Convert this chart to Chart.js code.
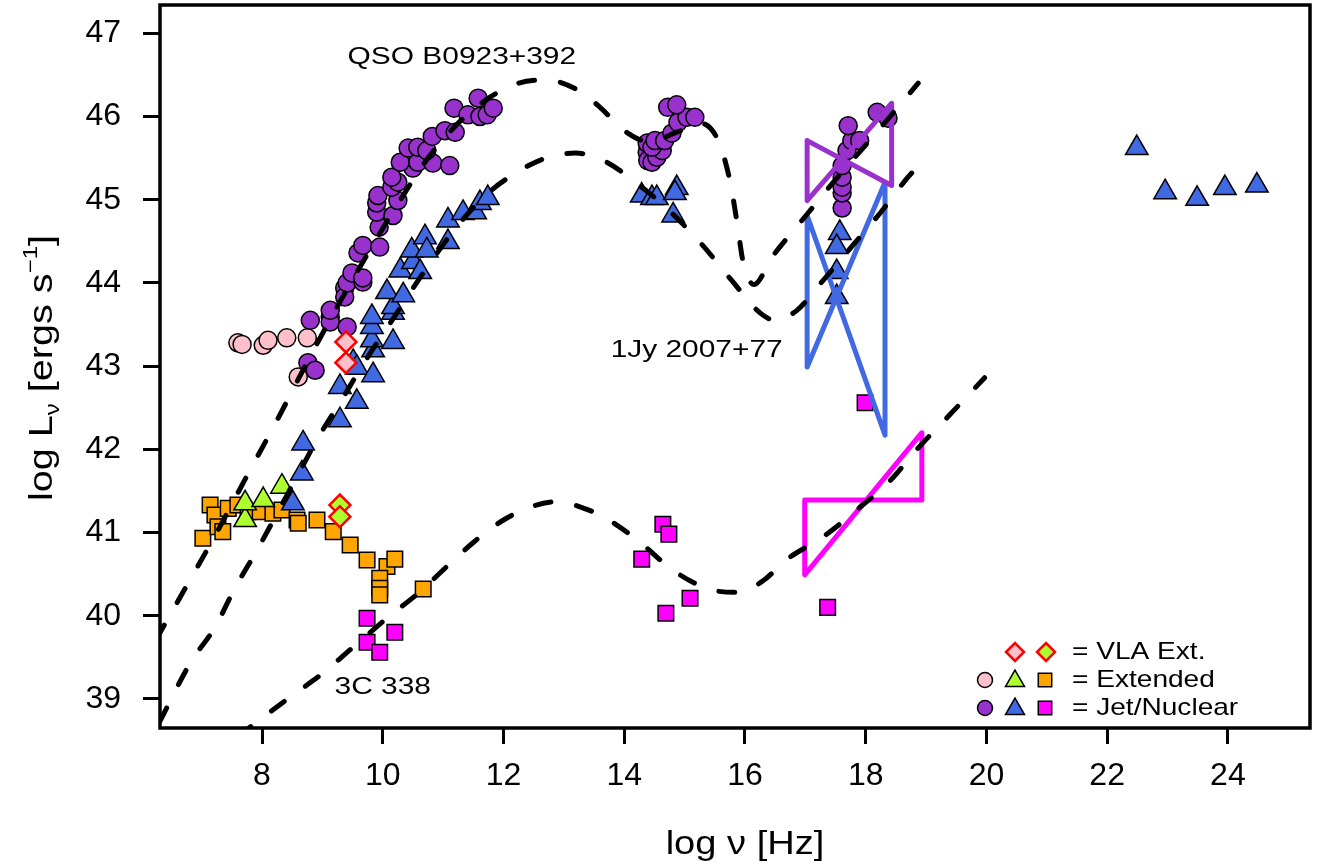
<!DOCTYPE html>
<html><head><meta charset="utf-8">
<script src="https://cdn.jsdelivr.net/npm/chart.js@4/dist/chart.umd.min.js"></script>
<style>html,body{margin:0;padding:0;background:#fff}#wrap{width:1329px;height:864px}</style>
</head><body><div id="wrap"><canvas id="c" width="1329" height="864"></canvas></div>
<script>
// ---------- tick labels ----------
const xTicks = [8,10,12,14,16,18,20,22,24];
const yTicks = [39,40,41,42,43,44,45,46,47];

// ---------- QSO B0923+392 (jet/nuclear, purple circles) ----------
const qsoJet = [
 [8.76,43.04],[8.88,42.95],[8.80,43.55],[9.13,43.59],[9.13,43.53],[9.41,43.47],[9.13,43.67],
 [9.37,43.94],[9.37,43.83],[9.41,44.0],[9.67,44.01],[9.49,44.12],[9.67,44.06],[9.59,44.36],
 [9.67,44.45],[9.95,44.43],[9.94,44.67],[9.90,44.85],[10.17,44.81],[9.90,44.96],[10.25,44.99],
 [9.92,45.05],[10.15,45.15],[10.25,45.21],[10.15,45.27],[10.50,45.38],[10.29,45.45],[10.58,45.45],
 [10.83,45.44],[11.11,45.41],[10.42,45.62],[10.58,45.63],[10.73,45.59],[10.82,45.76],[11.03,45.83],
 [11.20,45.81],[11.18,46.1],[11.41,46.02],[11.61,46.0],[11.73,46.02],[11.58,46.22],[11.83,46.1],
 [14.38,45.57],[14.39,45.47],[14.46,45.45],[14.54,45.51],[14.63,45.59],[14.38,45.68],[14.46,45.63],
 [14.51,45.71],[14.67,45.71],[14.79,45.8],[14.89,45.93],[15.04,45.99],[15.17,45.99],[14.72,46.11],[14.87,46.14],
 [17.61,44.9],[17.61,45.08],[17.61,45.15],[17.61,45.27],[17.61,45.41],[17.69,45.59],[17.77,45.71],
 [17.90,45.71],[17.71,45.89],[18.19,46.05],[18.37,45.98]
];
// QSO B0923+392 extended (pink circles)
const qsoExt = [[7.60,43.28],[7.67,43.26],[8.02,43.25],[8.10,43.31],[8.41,43.34],[8.75,43.34],[8.60,42.87]];
// VLA extended (pink diamonds)
const qsoVLA = [[9.39,43.29],[9.39,43.04]];

// ---------- 1Jy 2007+77 (jet/nuclear, blue triangles) ----------
const jyJet = [
 [8.51,41.35],[8.66,41.71],[8.68,42.07],[9.29,42.35],[9.57,42.57],[9.29,42.75],[9.51,43.05],[9.57,42.98],
 [9.84,42.89],[9.84,43.19],[9.82,43.31],[10.17,43.29],[9.82,43.47],[9.82,43.59],[10.17,43.64],
 [10.17,43.71],[10.07,43.89],[10.34,43.85],[10.29,44.15],[10.50,44.25],[10.48,44.39],[10.70,44.55],
 [10.73,44.39],[10.62,44.13],[11.08,44.49],[11.08,44.75],[11.33,44.84],[11.53,44.85],[11.61,44.96],[11.74,45.02],
 [14.29,45.05],[14.46,45.02],[14.54,45.02],[14.87,45.14],[14.84,45.08],[14.81,44.81],
 [17.57,44.6],[17.52,44.43],[17.52,44.13],[17.52,43.83],
 [22.49,45.62],[22.96,45.09],[23.49,45.01],[23.95,45.14],[24.48,45.17]
];

// ---------- 3C 338 ----------
const c338Ext = [ // orange squares
 [7.02,40.93],[7.14,41.33],[7.22,41.21],[7.27,41.07],[7.35,41.01],[7.44,41.29],[7.60,41.33],[7.77,41.25],
 [7.97,41.25],[8.18,41.23],[8.33,41.27],[8.58,41.15],[8.60,41.11],[8.91,41.15],[9.18,41.01],[9.46,40.85],
 [9.74,40.67],[10.07,40.59],[10.20,40.68],[9.95,40.45],[9.95,40.33],[9.95,40.25],[10.67,40.32]
];
const c338ExtTri = [[7.72,41.15],[7.72,41.35],[8.02,41.39],[8.33,41.55]]; // green triangles
const c338VLA = [[9.29,41.33],[9.29,41.19]]; // green diamonds
const c338Jet = [ // magenta squares
 [9.74,39.97],[10.20,39.80],[9.74,39.68],[9.95,39.56],
 [14.29,40.68],[14.64,41.10],[14.74,40.98],[15.09,40.21],[14.69,40.03],
 [17.37,40.10],[17.99,42.56]
];

// ---------- model curves (dashed) ----------
const qsoModel = [
 [6.25,39.72],[6.76,40.37],[7.25,41.0],[7.75,41.68],[8.25,42.35],[8.75,43.05],[9.25,43.72],[9.75,44.35],
 [10.25,44.95],[10.75,45.5],[11.25,45.92],[11.75,46.22],[12.25,46.4],[12.7,46.44],[13.2,46.33],[13.6,46.11],
 [14.0,45.83],[14.4,45.7],[14.9,45.82],[15.25,45.92],[15.55,45.72],[15.75,45.23],[15.87,44.72],[15.97,44.25],
 [16.15,43.98],[16.45,44.31],[16.91,44.72],[17.5,45.24],[18.1,45.74],[18.73,46.28],[18.87,46.4]
];
const jyModel = [
 [6.3,38.72],[6.81,39.43],[7.22,39.86],[7.55,40.33],[7.92,40.79],[8.25,41.23],[8.6,41.7],[8.93,42.14],
 [9.29,42.56],[9.7,43.05],[10.2,43.6],[10.7,44.15],[11.2,44.65],[11.7,45.05],[12.2,45.32],[12.7,45.5],
 [13.2,45.56],[13.71,45.45],[14.2,45.2],[14.7,44.9],[15.3,44.45],[15.78,44.03],[16.25,43.64],[16.5,43.55],
 [16.86,43.67],[17.26,44.0],[17.75,44.42],[18.24,44.84],[18.7,45.27],[18.87,45.4]
];
const c338Model = [
 [7.6,38.55],[8.0,38.77],[8.5,39.04],[9.01,39.31],[9.49,39.61],[10.07,39.97],[10.62,40.29],[11.06,40.59],
 [11.5,40.88],[12.0,41.15],[12.5,41.32],[12.9,41.37],[13.3,41.3],[13.7,41.17],[14.25,40.89],[14.8,40.55],
 [15.4,40.32],[15.9,40.28],[16.3,40.42],[16.7,40.68],[17.3,40.95],[17.9,41.3],[18.4,41.62],[18.85,42.0],
 [19.4,42.42],[19.97,42.86]
];

// ---------- X-ray bowties ----------
const qsoBowtie = [[17.03,45.71],[18.43,45.17],[18.43,46.16],[17.03,44.99],[17.03,45.71]];
const jyBowtie = [[17.03,44.81],[18.32,42.17],[18.32,45.21],[17.03,42.99],[17.03,44.81]];
const c338Bowtie = [[16.99,41.39],[18.93,41.39],[18.93,42.20],[16.99,40.49],[16.99,41.39]];

// ---------- annotations / legend ----------
const curveLabels = [
 {text:'QSO B0923+392', x:11.31, y:46.71},
 {text:'1Jy 2007+77', x:15.2, y:43.19},
 {text:'3C 338', x:10.0, y:39.14}
];
const legendRows = ['= VLA Ext.', '= Extended', '= Jet/Nuclear'];

const COL = {purple:'#9932CC', blue:'#4169E1', magenta:'#FF00FF', orange:'#FFA500',
             green:'#ADFF2F', pink:'#FFC0CB', red:'#FF0000'};
const toXY = a => a.map(p => ({x:p[0], y:p[1]}));
const FONT = '"Liberation Sans", Arial, sans-serif';

function pts(label, data, style, r, fill, stroke, bw, order){
  return {type:'scatter', label, data:toXY(data), pointStyle:style, pointRadius:r, pointHoverRadius:r,
    backgroundColor:fill, borderColor:stroke, pointBorderWidth:bw, borderWidth:bw, showLine:false, order};
}
function curve(label, data){
  return {type:'scatter', label, data:toXY(data), showLine:true, pointRadius:0, borderColor:'#000',
    borderWidth:5, borderDash:[16,26], borderCapStyle:'round', cubicInterpolationMode:'monotone', fill:false, order:0};
}
function bowtie(label, data, color){
  return {type:'scatter', label, data:toXY(data), showLine:true, pointRadius:0, borderColor:color,
    borderWidth:5, tension:0, borderJoinStyle:'round', borderCapStyle:'round', fill:false, order:0};
}

function sText(ctx, txt, x, y, size, align, sx){
  ctx.save();
  ctx.font = size + 'px ' + FONT;
  ctx.textBaseline = 'middle';
  ctx.fillStyle = '#000';
  const w = ctx.measureText(txt).width * sx;
  const x0 = align === 'center' ? x - w/2 : (align === 'right' ? x - w : x);
  ctx.translate(x0, y); ctx.scale(sx, 1);
  ctx.textAlign = 'left';
  ctx.fillText(txt, 0, 0);
  ctx.restore();
}

const decor = {
  id:'decor',
  afterDraw(chart){
    const ctx = chart.ctx, a = chart.chartArea, xs = chart.scales.x, ys = chart.scales.y;
    // frame
    ctx.save(); ctx.strokeStyle = '#000'; ctx.lineWidth = 3.5;
    ctx.strokeRect(a.left, a.top, a.right - a.left, a.bottom - a.top); ctx.restore();
    // curve labels
    curveLabels.forEach(l => sText(ctx, l.text, xs.getPixelForValue(l.x), ys.getPixelForValue(l.y), 23, 'center', 1.3));
    // x title
    sText(ctx, 'log \u03bd [Hz]', 745, 845, 34, 'center', 1.12);
    // y title with sub/superscript
    ctx.save();
    ctx.translate(40, 368); ctx.rotate(-Math.PI/2);
    ctx.fillStyle = '#000'; ctx.textBaseline = 'alphabetic';
    const big = 33, small = 20, sx = 1.2;
    const parts = [['log L', big, 0], ['\u03bd', small, 7], [' [ergs s', big, 0], ['\u22121', small, -15], [']', big, 0]];
    let tw = 0;
    parts.forEach(p => { ctx.font = p[1] + 'px ' + FONT; tw += ctx.measureText(p[0]).width; });
    ctx.scale(sx, 1);
    let cx = -tw/2;
    parts.forEach(p => { ctx.font = p[1] + 'px ' + FONT; ctx.fillText(p[0], cx, 12 + p[2]); cx += ctx.measureText(p[0]).width; });
    ctx.restore();
    // legend
    const H = Chart.helpers;
    const mk = (style, r, fill, stroke, bw, x, y) => {
      ctx.save(); ctx.fillStyle = fill; ctx.strokeStyle = stroke; ctx.lineWidth = bw;
      H.drawPoint(ctx, {pointStyle:style, radius:r, rotation:0, borderWidth:bw}, x, y); ctx.restore();
    };
    const rows = [652, 680, 708];
    mk('rectRot', 9, COL.pink, COL.red, 2.5, 1015, rows[0]);
    mk('rectRot', 9, COL.green, COL.red, 2.5, 1046, rows[0]);
    mk('circle', 7.5, COL.pink, '#000', 1.5, 985, rows[1]);
    mk('triangle', 11, COL.green, '#000', 1.5, 1015, rows[1]+1);
    mk('rect', 9.5, COL.orange, '#000', 1.5, 1045, rows[1]);
    mk('circle', 7.5, COL.purple, '#000', 1.5, 985, rows[2]);
    mk('triangle', 11, COL.blue, '#000', 1.5, 1015, rows[2]+1);
    mk('rect', 9.5, COL.magenta, '#000', 1.5, 1045, rows[2]);
    legendRows.forEach((t, i) => sText(ctx, t, 1072, rows[i], 24, 'left', 1.17));
  }
};

new Chart(document.getElementById('c'), {
  type:'scatter',
  data:{datasets:[
    curve('QSO B0923+392 model', qsoModel),
    curve('1Jy 2007+77 model', jyModel),
    curve('3C 338 model', c338Model),
    bowtie('QSO B0923+392 X-ray', qsoBowtie, COL.purple),
    bowtie('1Jy 2007+77 X-ray', jyBowtie, COL.blue),
    bowtie('3C 338 X-ray', c338Bowtie, COL.magenta),
    pts('VLA Ext. (QSO)', qsoVLA, 'rectRot', 10.5, COL.pink, COL.red, 2.5, 1),
    pts('VLA Ext. (3C 338)', c338VLA, 'rectRot', 10.5, COL.green, COL.red, 2.5, 1),
    pts('3C 338 Jet/Nuclear', c338Jet, 'rect', 11, COL.magenta, '#000', 1.5, 2),
    pts('1Jy 2007+77 Jet/Nuclear', jyJet, 'triangle', 13, COL.blue, '#000', 1.5, 3),
    pts('3C 338 Extended (tri)', c338ExtTri, 'triangle', 13, COL.green, '#000', 1.5, 3),
    pts('QSO Jet/Nuclear', qsoJet, 'circle', 9, COL.purple, '#000', 1.5, 4),
    pts('QSO Extended', qsoExt, 'circle', 9, COL.pink, '#000', 1.5, 5),
    pts('3C 338 Extended', c338Ext, 'rect', 11, COL.orange, '#000', 1.5, 6)
  ]},
  options:{
    responsive:false, animation:false, devicePixelRatio:1,
    layout:{autoPadding:false, padding:{left:0, right:19, top:5, bottom:0}},
    plugins:{legend:{display:false}, tooltip:{enabled:false}},
    scales:{
      x:{type:'linear', min:6.31, max:25.36,
         afterBuildTicks: s => { s.ticks = xTicks.map(v => ({value:v})); },
         afterFit: s => { s.height = 136; s.paddingLeft = 0; s.paddingRight = 0; },
         ticks:{font:{family:FONT, size:32}, color:'#000', padding:13},
         grid:{drawOnChartArea:false, drawTicks:true, tickLength:16, tickWidth:3, tickColor:'#000'},
         border:{display:false}},
      y:{type:'linear', min:38.65, max:47.34,
         afterBuildTicks: s => { s.ticks = yTicks.map(v => ({value:v})); },
         afterFit: s => { s.width = 160; s.paddingTop = 0; s.paddingBottom = 0; },
         ticks:{font:{family:FONT, size:32}, color:'#000', padding:22},
         grid:{drawOnChartArea:false, drawTicks:true, tickLength:17, tickWidth:3, tickColor:'#000'},
         border:{display:false}}
    }
  },
  plugins:[decor]
});
</script>
</body></html>
